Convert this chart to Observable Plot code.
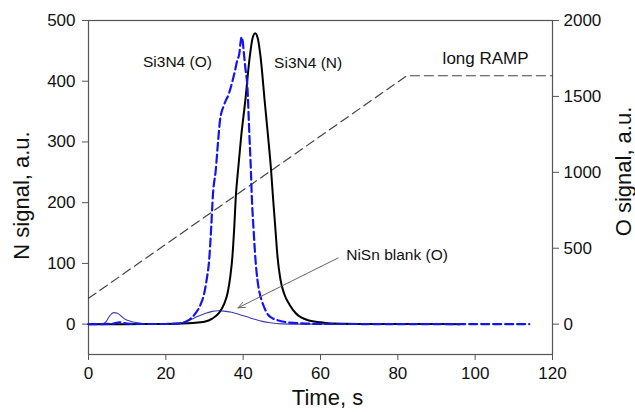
<!DOCTYPE html>
<html><head><meta charset="utf-8">
<script src="https://cdn.jsdelivr.net/npm/d3@7"></script>
<script src="https://cdn.jsdelivr.net/npm/@observablehq/plot@0.6"></script>
<style>html,body{margin:0;padding:0;background:#fff} svg{display:block}</style>
</head><body><div id="chart"></div>
<script>
// ---- data ----
// Si3N4 (N) signal, left axis (N signal, a.u.)
const nTime   = [0, 10, 20, 24, 27, 30, 32, 33.7, 35, 36, 36.7, 37.2, 37.7, 38.1, 38.7, 39.5, 40.5, 41.7, 42.4, 43.1, 43.8, 44.5, 45.6, 46.5, 47.2, 47.7, 48.3, 48.9, 49.6, 50.6, 52, 53.6, 55, 57, 60, 63, 70, 96];
const nSignal = [0, 0, 0.3, 1, 2, 4, 9, 18, 32, 52, 80, 110, 160, 210, 255, 310, 365, 440, 470, 479, 470, 440, 365, 305, 255, 210, 160, 110, 75, 50, 32, 18, 11, 6, 3, 1, 0.3, 0];

// Si3N4 (O) signal, right axis (O signal, a.u.)
const oTime   = [0, 6, 8, 10, 14, 20, 23, 25.5, 27.7, 29, 29.9, 30.6, 31.2, 31.7, 32.2, 32.9, 33.5, 34, 35, 35.5, 36.2, 36.8, 37.8, 38.5, 39, 39.3, 39.6, 39.9, 40.2, 40.6, 41.1, 41.6, 42, 42.2, 42.7, 43.2, 43.7, 44.3, 45, 45.8, 46.5, 47.5, 48.9, 52, 56, 62, 114];
const oSignal = [0, 2, 12, 4, 1, 1, 4, 20, 72, 130, 200, 300, 420, 620, 860, 1012, 1200, 1340, 1440, 1472, 1510, 1560, 1660, 1740, 1780, 1850, 1890, 1860, 1780, 1680, 1560, 1250, 1012, 860, 620, 420, 290, 200, 140, 90, 60, 40, 26, 10, 4, 1, 0];

// NiSn blank (O) signal, right axis
const blankTime   = [0, 3.5, 4.5, 5.5, 6.5, 7.5, 8.5, 9.5, 11, 13, 15, 18, 22, 24, 26, 28, 30, 32, 33.5, 35, 37, 39, 41, 43, 45, 47, 50, 55, 95];
const blankSignal = [0, 0, 15, 55, 76, 72, 52, 32, 18, 8, 3, 1, 2, 8, 24, 48, 68, 84, 88, 86, 78, 64, 48, 32, 18, 9, 2, 0, 0];

// long RAMP, right-axis units
const rampTime  = [0, 82.3, 120];
const rampValue = [170, 1636, 1636];

// axes
const xTicks = [0, 20, 40, 60, 80, 100, 120];
const nTicks = [0, 100, 200, 300, 400, 500];
const oTicks = [0, 500, 1000, 1500, 2000];
const O_PER_N = 4; // right axis 2000 <-> left axis 500

// annotations
const labels = [
  {text: "Si3N4 (O)", t: 23.0, n: 432, size: 15.5},
  {text: "Si3N4 (N)", t: 56.8, n: 430, size: 15.5},
  {text: "long RAMP", t: 102.7, n: 438, size: 17},
  {text: "NiSn blank (O)", t: 79.8, n: 113, size: 15.5}
];
const arrows = [{t1: 64.55, n1: 109, t2: 38.66, n2: 26.8}];

// ---- tables ----
const nRows = nTime.map((t, i) => ({t, v: nSignal[i]}));
const oRows = oTime.map((t, i) => ({t, v: oSignal[i] / O_PER_N}));
const blankRows = blankTime.map((t, i) => ({t, v: blankSignal[i] / O_PER_N}));
const rampRows = rampTime.map((t, i) => ({t, v: rampValue[i] / O_PER_N}));

const font = "'Liberation Sans', Arial, Helvetica, sans-serif";

const chart = Plot.plot({
  width: 635,
  height: 412,
  marginLeft: 88,
  marginRight: 83,
  marginTop: 20,
  marginBottom: 58,
  style: {fontFamily: font, fontSize: "17px", color: "#111", background: "#fff"},
  x: {domain: [0, 120]},
  y: {domain: [-50, 500]},
  marks: [
    Plot.axisX({ticks: xTicks, tickSize: 6, tickPadding: 6, stroke: "#555", fill: "#111", label: null, fontSize: 17}),
    Plot.axisY({ticks: nTicks, tickSize: 6, tickPadding: 7, stroke: "#555", fill: "#111", label: null, fontSize: 17}),
    Plot.axisY({anchor: "right", ticks: oTicks.map(d => d / O_PER_N), tickFormat: d => String(Math.round(d * O_PER_N)), tickSize: 6, tickPadding: 5, stroke: "#555", fill: "#111", label: null, fontSize: 17}),
    Plot.frame({stroke: "#555", strokeWidth: 1.2}),
    Plot.line(rampRows, {x: "t", y: "v", stroke: "#444", strokeWidth: 1.2, strokeDasharray: "9,5"}),
    Plot.line(blankRows, {x: "t", y: "v", stroke: "#3c3cae", strokeWidth: 1.1, curve: "monotone-x"}),
    Plot.line(nRows, {x: "t", y: "v", stroke: "#000", strokeWidth: 2, curve: "monotone-x"}),
    Plot.line(oRows, {x: "t", y: "v", stroke: "#1414f0", strokeWidth: 2.2, strokeDasharray: "8,4", curve: "monotone-x"}),
    Plot.arrow(arrows, {x1: "t1", y1: "n1", x2: "t2", y2: "n2", stroke: "#666", strokeWidth: 1, headLength: 11, headAngle: 45}),
    Plot.text(labels, {x: "t", y: "n", text: "text", fontSize: d => d.size, fill: "#111", textAnchor: "middle", lineAnchor: "middle"}),
    Plot.text(["N signal, a.u."], {frameAnchor: "left", rotate: -90, dx: -60, dy: 8, textAnchor: "middle", lineAnchor: "bottom", fontSize: 22, fill: "#111"}),
    Plot.text(["O signal, a.u."], {frameAnchor: "right", rotate: -90, dx: 78, dy: -16, textAnchor: "middle", lineAnchor: "bottom", fontSize: 22, fill: "#111"}),
    Plot.text(["Time, s"], {frameAnchor: "bottom", dx: 7, dy: 50, textAnchor: "middle", lineAnchor: "bottom", fontSize: 22, fill: "#111"})
  ]
});
document.getElementById("chart").appendChild(chart);
</script>
</body></html>
